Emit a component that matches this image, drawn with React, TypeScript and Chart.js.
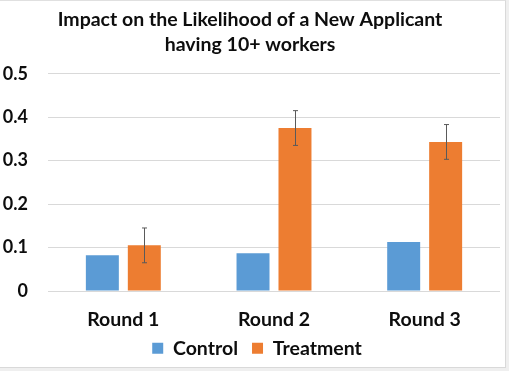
import React, { useEffect, useRef } from "react";
import { Chart, registerables } from "chart.js";

Chart.register(...registerables);

const categories = ["Round 1", "Round 2", "Round 3"];
const controlValues = [0.082, 0.087, 0.113];
const treatmentValues = [0.105, 0.375, 0.343];
const treatmentErrors = [0.04, 0.04, 0.04];
const titleLines = ["Impact on the Likelihood of a New Applicant", "having 10+ workers"];

const FONT = "Lato, 'Open Sans', sans-serif";

const errorBarPlugin = {
  id: "errorBars",
  afterLayout(chart: any) {
    const lg = chart.legend;
    if (lg) {
      lg.left = 7;
      lg.right = 507;
      lg.top += 1;
      lg.bottom += 1;
    }
    const xs = chart.scales.x;
    if (xs) xs.bottom = chart.height;
  },
  afterDatasetsDraw(chart: any) {
    const ctx = chart.ctx;
    const yScale = chart.scales.y;
    const meta = chart.getDatasetMeta(1);
    ctx.save();
    ctx.strokeStyle = "#5a5a5a";
    ctx.lineWidth = 1;
    meta.data.forEach((bar: any, i: number) => {
      const v = treatmentValues[i];
      const e = treatmentErrors[i];
      const x = Math.round(bar.x) + 0.5;
      const yTop = yScale.getPixelForValue(v + e);
      const yBot = yScale.getPixelForValue(v - e);
      ctx.beginPath();
      ctx.moveTo(x, yTop);
      ctx.lineTo(x, yBot);
      ctx.moveTo(x - 2.5, yTop);
      ctx.lineTo(x + 2.5, yTop);
      ctx.moveTo(x - 2.5, yBot);
      ctx.lineTo(x + 2.5, yBot);
      ctx.stroke();
    });
    ctx.restore();
  },
};

export default function App() {
  const ref = useRef<HTMLCanvasElement>(null);
  useEffect(() => {
    if (!ref.current) return;
    const chart = new Chart(ref.current, {
      type: "bar",
      data: {
        labels: categories,
        datasets: [
          {
            label: "Control",
            data: controlValues,
            backgroundColor: "#5B9BD5",
            categoryPercentage: 0.557,
            barPercentage: 0.786,
          },
          {
            label: "Treatment",
            data: treatmentValues,
            backgroundColor: "#ED7D31",
            categoryPercentage: 0.557,
            barPercentage: 0.786,
          },
        ],
      },
      options: {
        animation: false,
        responsive: false,
        maintainAspectRatio: false,
        layout: { padding: { left: 0, right: 5, top: 0, bottom: 0 } },
        plugins: {
          title: {
            display: true,
            text: titleLines,
            color: "#0d0d0d",
            font: { family: FONT, size: 19.5, weight: "bold", lineHeight: 1.3 },
            padding: { top: 6, bottom: 16 },
          },
          legend: {
            position: "bottom",
            labels: {
              boxWidth: 11,
              boxHeight: 11,
              color: "#0d0d0d",
              font: { family: FONT, size: 19.5, weight: "bold", lineHeight: 0.65 },
              padding: 14,
            },
          },
          tooltip: { enabled: false },
        },
        scales: {
          x: {
            grid: { display: false, drawTicks: false },
            border: { display: false },
            afterFit: (scale: any) => {
              scale.height = 32.5;
            },
            ticks: {
              color: "#0d0d0d",
              font: { family: FONT, size: 19.5, weight: "bold", lineHeight: 1.0 },
              padding: 19,
            },
          },
          y: {
            min: 0,
            max: 0.5,
            afterFit: (scale: any) => {
              scale.width = 48;
            },
            ticks: {
              stepSize: 0.1,
              color: "#0d0d0d",
              font: { family: FONT, size: 18, weight: "bold" },
              padding: 20,
              callback: (v: any) => (v === 0 ? "0" : Number(v).toFixed(1)),
            },
            grid: { color: "#d9d9d9", drawTicks: false, lineWidth: 1 },
            border: { display: false },
          },
        },
      },
      plugins: [errorBarPlugin],
    });
    return () => chart.destroy();
  }, []);

  return (
    <div style={{ position: "fixed", left: 0, top: 0, width: 509, height: 371, background: "#efefef" }}>
      <div
        style={{
          position: "absolute",
          left: 0,
          top: 0,
          width: 506,
          height: 368,
          background: "#fff",
          borderTop: "1px solid #e0e0e0",
          borderRight: "1px solid #d9d9d9",
          borderBottom: "1px solid #d9d9d9",
          boxSizing: "border-box",
        }}
      >
        <canvas ref={ref} width={505} height={366} style={{ display: "block" }} />
      </div>
    </div>
  );
}
